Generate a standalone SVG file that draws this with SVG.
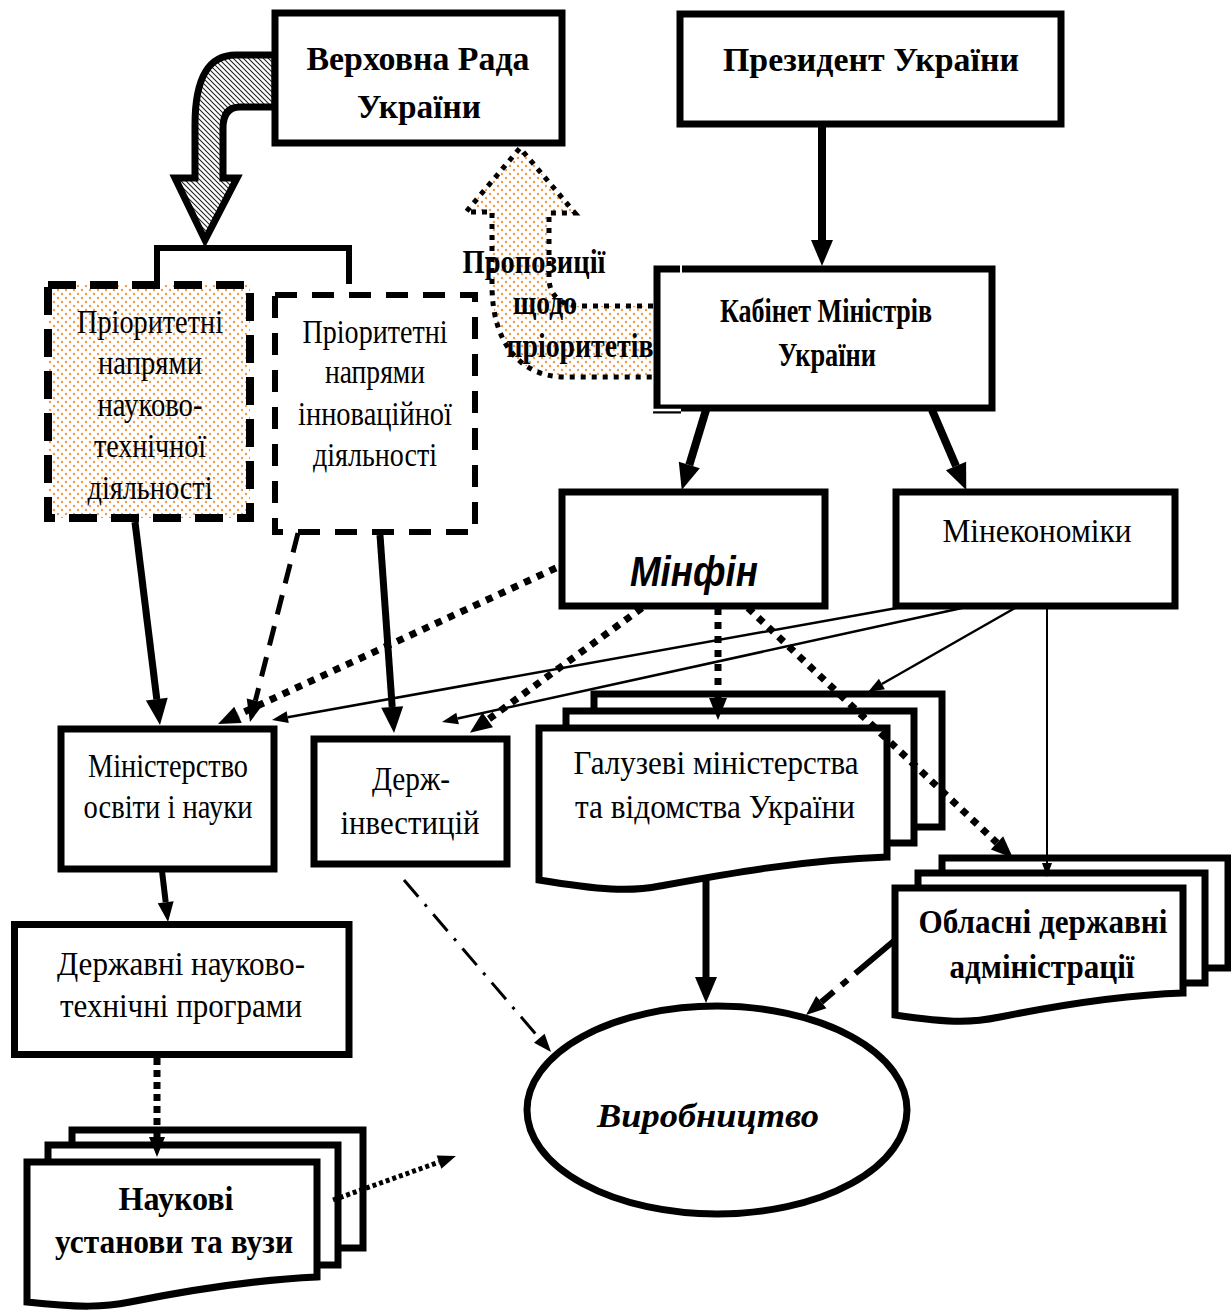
<svg xmlns="http://www.w3.org/2000/svg" width="1231" height="1310" viewBox="0 0 1231 1310">
<defs>
<style>
.box{fill:#fff;stroke:#000;stroke-width:7}
.t{font-family:"Liberation Serif","Times New Roman",serif;font-size:34px;text-anchor:middle;fill:#000}
.b{font-weight:bold}
.ln{fill:none;stroke:#000}
.dot7{stroke-width:7;stroke-dasharray:7 7}
</style>
<pattern id="dots" width="8" height="8" patternUnits="userSpaceOnUse">
<rect width="8" height="8" fill="#fff"/>
<circle cx="2" cy="2" r="1.2" fill="#f59a45"/>
<circle cx="6" cy="6" r="1.2" fill="#f59a45"/>
</pattern>
<pattern id="hatch" width="5" height="5" patternUnits="userSpaceOnUse">
<rect width="5" height="5" fill="#fff"/>
<path d="M-1,-1 L6,6 M-1,4 L1,6 M4,-1 L6,1" stroke="#222" stroke-width="1.1"/>
</pattern>
<marker id="a26" markerUnits="userSpaceOnUse" markerWidth="26" markerHeight="22" refX="0" refY="11" orient="auto" overflow="visible"><path d="M0,0 L26,11 L0,22 Z"/></marker>
<marker id="a22" markerUnits="userSpaceOnUse" markerWidth="22" markerHeight="18" refX="0" refY="9" orient="auto" overflow="visible"><path d="M0,0 L22,9 L0,18 Z"/></marker>
<marker id="a20" markerUnits="userSpaceOnUse" markerWidth="20" markerHeight="16" refX="0" refY="8" orient="auto" overflow="visible"><path d="M0,0 L20,8 L0,16 Z"/></marker>
<marker id="a18" markerUnits="userSpaceOnUse" markerWidth="18" markerHeight="14" refX="0" refY="7" orient="auto" overflow="visible"><path d="M0,0 L18,7 L0,14 Z"/></marker>
<marker id="a16" markerUnits="userSpaceOnUse" markerWidth="16" markerHeight="12" refX="0" refY="6" orient="auto" overflow="visible"><path d="M0,0 L16,6 L0,12 Z"/></marker>
<marker id="a14" markerUnits="userSpaceOnUse" markerWidth="14" markerHeight="10" refX="0" refY="5" orient="auto" overflow="visible"><path d="M0,0 L14,5 L0,10 Z"/></marker>
</defs>
<rect width="1231" height="1310" fill="#fff"/>

<g id="block-arrows">
<path d="M653,306 L580,306 C562,306 549,296 549,278 L549,213 L575,213 L520,148 L466,212 L492,212 L492,285 C492,345 522,377 565,377 L653,377" fill="url(#dots)" stroke="#000" stroke-width="5" stroke-dasharray="5 6"/>
<path d="M275,55 L236,55 C208,55 195,78 195,125 L195,178 L175,178 L205,240 L237,178 L223,178 L223,128 C223,115 228,107 240,107 L275,107 Z" fill="url(#hatch)" stroke="#000" stroke-width="7"/>
</g>

<g id="verkhovna-rada">
<rect class="box" x="275" y="13" width="287" height="130"/>
<text class="t b" x="418" y="70" font-size="38" textLength="223" lengthAdjust="spacingAndGlyphs">Верховна Рада</text>
<text class="t b" x="419" y="118" font-size="38" textLength="124" lengthAdjust="spacingAndGlyphs">України</text>
</g>

<g id="president">
<rect class="box" x="680" y="14" width="381" height="110" stroke-width="8"/>
<text class="t b" x="871" y="71" font-size="39" textLength="296" lengthAdjust="spacingAndGlyphs">Президент України</text>
</g>

<g id="cabinet">
<rect class="box" x="657" y="269" width="335" height="139" stroke-width="8"/>
<line x1="681" y1="264" x2="681" y2="274" stroke="#fff" stroke-width="2"/>
<line x1="653" y1="410" x2="681" y2="410" stroke="#fff" stroke-width="2.5"/>
<line x1="653" y1="412.5" x2="681" y2="412.5" stroke="#000" stroke-width="2"/>
<text class="t b" x="826" y="322" font-size="35" textLength="212" lengthAdjust="spacingAndGlyphs">Кабінет Міністрів</text>
<text class="t b" x="827" y="366" font-size="35" textLength="98" lengthAdjust="spacingAndGlyphs">України</text>
</g>

<g id="bracket">
<path class="ln" d="M157,286 V248 H349 V284" stroke-width="6"/>
</g>

<g id="priority-science">
<rect x="48" y="285" width="202" height="233" fill="url(#dots)" stroke="#000" stroke-width="8" stroke-dasharray="28 14"/>
<text class="t" x="150" y="333" textLength="146" lengthAdjust="spacingAndGlyphs">Пріоритетні</text>
<text class="t" x="150" y="374" textLength="104" lengthAdjust="spacingAndGlyphs">напрями</text>
<text class="t" x="150" y="416" textLength="105" lengthAdjust="spacingAndGlyphs">науково-</text>
<text class="t" x="150" y="457" textLength="112" lengthAdjust="spacingAndGlyphs">технічної</text>
<text class="t" x="150" y="499" textLength="125" lengthAdjust="spacingAndGlyphs">діяльності</text>
</g>

<g id="priority-innovation">
<rect x="275" y="295" width="200" height="237" fill="#fff" stroke="#000" stroke-width="6" stroke-dasharray="22 15"/>
<text class="t" x="375" y="343" textLength="145" lengthAdjust="spacingAndGlyphs">Пріоритетні</text>
<text class="t" x="375" y="383" textLength="100" lengthAdjust="spacingAndGlyphs">напрями</text>
<text class="t" x="375" y="425" textLength="154" lengthAdjust="spacingAndGlyphs">інноваційної</text>
<text class="t" x="375" y="466" textLength="124" lengthAdjust="spacingAndGlyphs">діяльності</text>
</g>

<g id="minfin">
<rect class="box" x="562" y="492" width="263" height="114" stroke-width="6"/>
<text x="694" y="586" font-family="'Liberation Sans',Arial,sans-serif" font-size="42" font-weight="bold" font-style="italic" text-anchor="middle" textLength="128" lengthAdjust="spacingAndGlyphs">Мінфін</text>
</g>

<g id="mineconomy">
<rect class="box" x="896" y="492" width="279" height="114" stroke-width="6"/>
<text class="t" x="1037" y="542" font-size="36" textLength="189" lengthAdjust="spacingAndGlyphs">Мінекономіки</text>
</g>

<g id="mon">
<rect class="box" x="61" y="729" width="213" height="140"/>
<text class="t" x="168" y="777" textLength="160" lengthAdjust="spacingAndGlyphs">Міністерство</text>
<text class="t" x="168" y="818" textLength="169" lengthAdjust="spacingAndGlyphs">освіти і науки</text>
</g>

<g id="derzhinvest">
<rect class="box" x="314" y="739" width="193" height="125" stroke-width="8"/>
<text class="t" x="411" y="790" font-size="36" textLength="78" lengthAdjust="spacingAndGlyphs">Держ-</text>
<text class="t" x="410" y="834" font-size="36" textLength="139" lengthAdjust="spacingAndGlyphs">інвестицій</text>
</g>

<g id="galuzevi">
<rect class="box" x="594" y="694" width="348" height="133" stroke-width="6"/>
<rect class="box" x="566" y="711" width="348" height="132" stroke-width="6"/>
<path class="box" d="M539,728 H887 V857 C800,860 720,875 660,886 C630,892 600,890 539,880 Z"/>
<text class="t" x="716" y="774" font-size="38" textLength="285" lengthAdjust="spacingAndGlyphs">Галузеві міністерства</text>
<text class="t" x="715" y="818" font-size="38" textLength="280" lengthAdjust="spacingAndGlyphs">та відомства України</text>
</g>

<g id="oblasni">
<rect class="box" x="942" y="858" width="286" height="110" stroke-width="6"/>
<rect class="box" x="918" y="873" width="287" height="110" stroke-width="6"/>
<path class="box" d="M895,888 H1183 V993 C1120,995 1060,1005 1000,1017 C975,1022 955,1024 895,1015 Z"/>
<text class="t b" x="1043" y="933" font-size="37" textLength="249" lengthAdjust="spacingAndGlyphs">Обласні державні</text>
<text class="t b" x="1042" y="978" font-size="37" textLength="185" lengthAdjust="spacingAndGlyphs">адміністрації</text>
</g>

<g id="programs">
<rect class="box" x="14.5" y="924.5" width="334.5" height="130" stroke-width="6"/>
<text class="t" x="181" y="975" font-size="35" textLength="248" lengthAdjust="spacingAndGlyphs">Державні науково-</text>
<text class="t" x="181" y="1017" font-size="35" textLength="242" lengthAdjust="spacingAndGlyphs">технічні програми</text>
</g>

<g id="naukovi">
<rect class="box" x="72" y="1130" width="291" height="118" stroke-width="6"/>
<rect class="box" x="48" y="1145" width="290" height="120" stroke-width="6"/>
<path class="box" d="M27,1162 H317 V1277 C250,1280 190,1290 130,1302 C105,1307 80,1308 27,1302 Z"/>
<text class="t b" x="176" y="1210" font-size="35" textLength="115" lengthAdjust="spacingAndGlyphs">Наукові</text>
<text class="t b" x="174" y="1253" font-size="35" textLength="238" lengthAdjust="spacingAndGlyphs">установи та вузи</text>
</g>

<g id="vyrobnytstvo">
<ellipse cx="717" cy="1110" rx="190" ry="104" fill="#fff" stroke="#000" stroke-width="7"/>
<text class="t b" x="708" y="1127" font-size="40" font-style="italic" textLength="222" lengthAdjust="spacingAndGlyphs">Виробництво</text>
</g>

<g id="connectors">
<text class="t b" x="534" y="273" font-size="32" textLength="143" lengthAdjust="spacingAndGlyphs">Пропозиції</text>
<text class="t b" x="545" y="314" font-size="32" textLength="64" lengthAdjust="spacingAndGlyphs">щодо</text>
<text class="t b" x="580" y="357" font-size="32" textLength="147" lengthAdjust="spacingAndGlyphs">пріоритетів</text>
<line class="ln" x1="822" y1="124" x2="822" y2="240" stroke-width="8" marker-end="url(#a26)"/>
<line class="ln" x1="706" y1="410" x2="689.3" y2="465" stroke-width="8" marker-end="url(#a26)"/>
<line class="ln" x1="932" y1="410" x2="956" y2="466" stroke-width="8" marker-end="url(#a26)"/>
<line class="ln" x1="135" y1="522" x2="156.8" y2="699.2" stroke-width="7" marker-end="url(#a26)"/>
<line class="ln" x1="298" y1="533" x2="255.4" y2="700.7" stroke-width="5" stroke-dasharray="20 12" marker-end="url(#a22)"/>
<line class="ln" x1="380" y1="535" x2="392.2" y2="707" stroke-width="7" marker-end="url(#a26)"/>
<line class="ln dot7" x1="556" y1="568" x2="238" y2="714.8" marker-end="url(#a22)"/>
<line class="ln dot7" x1="642" y1="608" x2="487.7" y2="719.9" marker-end="url(#a22)"/>
<line class="ln dot7" x1="718" y1="608" x2="718" y2="698" marker-end="url(#a22)"/>
<line class="ln dot7" x1="748" y1="608" x2="997" y2="842.9" marker-end="url(#a22)"/>
<line class="ln" x1="897" y1="608" x2="287.7" y2="717.2" stroke-width="2.5" marker-end="url(#a16)"/>
<line class="ln" x1="962" y1="608" x2="457.6" y2="718.5" stroke-width="2.5" marker-end="url(#a16)"/>
<line class="ln" x1="1015" y1="608" x2="881.9" y2="684" stroke-width="2.5" marker-end="url(#a16)"/>
<line class="ln" x1="1047" y1="608" x2="1047" y2="863" stroke-width="2" marker-end="url(#a14)"/>
<line class="ln" x1="162" y1="871" x2="165.7" y2="902.2" stroke-width="6" marker-end="url(#a20)"/>
<line class="ln" x1="157" y1="1058" x2="157" y2="1137" stroke-width="7" stroke-dasharray="7 5" marker-end="url(#a20)"/>
<line class="ln" x1="333" y1="1200" x2="439" y2="1162.1" stroke-width="5" stroke-dasharray="4 3" marker-end="url(#a18)"/>
<line class="ln" x1="404" y1="880" x2="539.3" y2="1038.3" stroke-width="3" stroke-dasharray="22 10 3 10" marker-end="url(#a18)"/>
<line class="ln" x1="706" y1="880" x2="706" y2="977" stroke-width="7" marker-end="url(#a26)"/>
<line class="ln" x1="895" y1="940" x2="821.3" y2="1002.1" stroke-width="6" stroke-dasharray="52 10 8 10" marker-end="url(#a20)"/>
</g>
</svg>
